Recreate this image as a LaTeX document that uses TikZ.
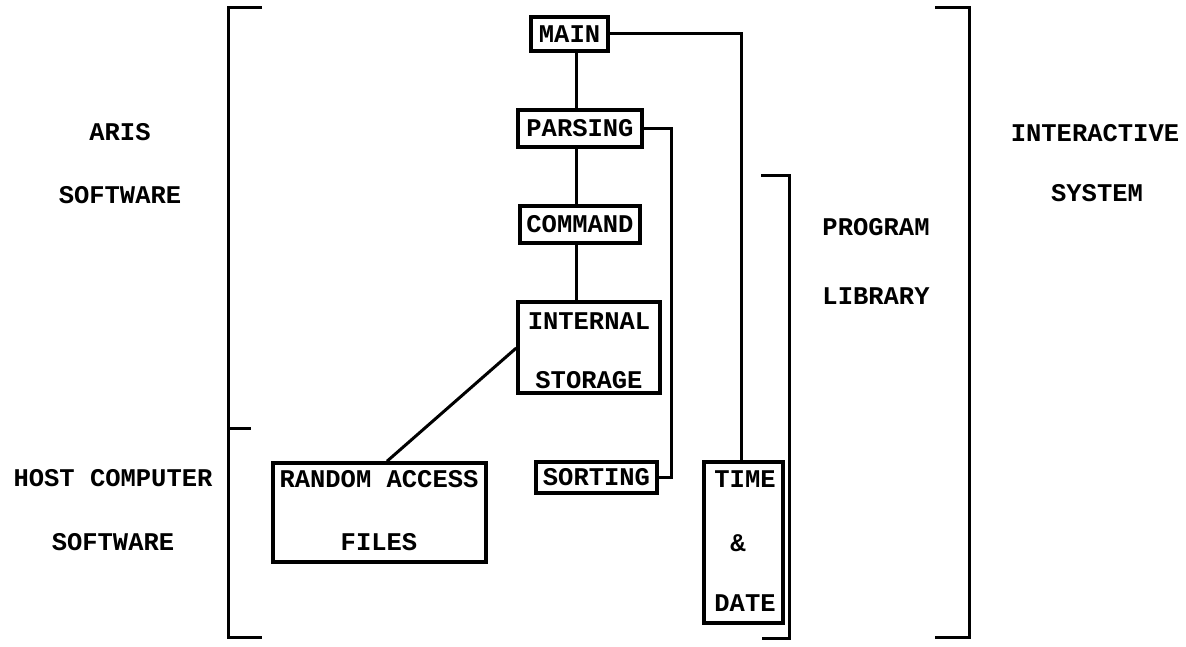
\documentclass[tikz,border=0pt]{standalone}
\usepackage{fontspec}
\setmonofont{Liberation Mono}
\begin{document}
\begin{tikzpicture}[x=1pt,y=-1pt,
  every node/.style={font=\fontsize{25.5}{28}\selectfont\ttfamily\bfseries},
  box/.style={draw,line width=3.5pt,inner sep=0pt},
  lbl/.style={inner sep=0pt},
  conn/.style={line width=3pt},
  brk/.style={line width=3pt}]
\useasboundingbox (0,0) rectangle (1186,647);
% brackets
\draw[brk] (262,8) -- (228,8) -- (228,637) -- (262,637);
\draw[brk] (228,428) -- (251,428);
\draw[brk] (935,8) -- (969,8) -- (969,637) -- (935,637);
\draw[brk] (761,176) -- (789,176) -- (789,638) -- (762,638);
% side labels
\node[lbl] (aris) at (120,132) {ARIS};
\node[lbl] (arissw) at (120,195) {SOFTWARE};
\node[lbl] (host) at (113,478) {HOST COMPUTER};
\node[lbl] (hostsw) at (113,542) {SOFTWARE};
\node[lbl] (inter) at (1095,133) {INTERACTIVE};
\node[lbl] (system) at (1097,193) {SYSTEM};
\node[lbl] (prog) at (876,227) {PROGRAM};
\node[lbl] (lib) at (876,296) {LIBRARY};
% boxes
\node[box,minimum width=77pt,minimum height=34pt] (main) at (569.5,34) {MAIN};
\node[box,minimum width=124pt,minimum height=37pt] (parsing) at (580,128.5) {PARSING};
\node[box,minimum width=120pt,minimum height=37pt] (command) at (580,224.5) {COMMAND};
\node[box,minimum width=142pt,minimum height=91pt] (internal) at (589,347.5) {};
\node[lbl] (internalt) at (589,321) {INTERNAL};
\node[lbl] (storaget) at (589,380) {STORAGE};
\node[box,minimum width=213pt,minimum height=99pt] (random) at (379.5,512.5) {};
\node[lbl] (randomt) at (379,479) {RANDOM ACCESS};
\node[lbl] (filest) at (379,542) {FILES};
\node[box,minimum width=121pt,minimum height=31pt] (sorting) at (596.5,477.5) {SORTING};
\node[box,minimum width=79pt,minimum height=161pt] (time) at (743.5,542.5) {};
\node[lbl] (timet) at (745,479) {TIME};
\node[lbl] (ampt) at (738,543) {\&};
\node[lbl] (datet) at (745,603) {DATE};
% connectors
\coordinate (spine) at (576,0);
\draw[conn] (main.south -| spine) -- (parsing.north -| spine);
\draw[conn] (parsing.south -| spine) -- (command.north -| spine);
\draw[conn] (command.south -| spine) -- (internal.north -| spine);
\coordinate (tmx) at (741,0);
\draw[conn] (main.east) -| (time.north -| tmx);
\coordinate (psx) at (671,0);
\draw[conn] (parsing.east) -| (psx |- sorting.east) -- (sorting.east);
\coordinate (ilw) at (0,348);
\coordinate (rnx) at (387,0);
\draw[conn] (internal.west |- ilw) -- (random.north -| rnx);
\end{tikzpicture}
\end{document}
